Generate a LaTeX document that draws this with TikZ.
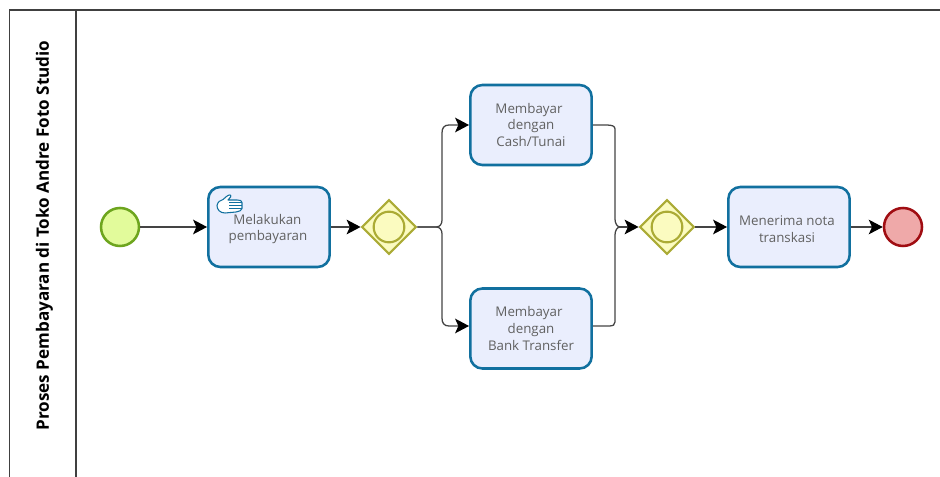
\documentclass[tikz,border=0pt]{standalone}
\usepackage{fontspec}
\setmainfont{Open Sans}
\usetikzlibrary{arrows.meta,shapes.geometric,calc}
\definecolor{taskblue}{HTML}{11709F}
\definecolor{taskfill}{HTML}{EAEEFD}
\definecolor{gateline}{HTML}{ABAB35}
\definecolor{gatefill}{HTML}{FBFBC0}
\definecolor{startline}{HTML}{6DA51E}
\definecolor{startfill}{HTML}{E2FB9B}
\definecolor{endline}{HTML}{A00D12}
\definecolor{endfill}{HTML}{EFA9A9}
\definecolor{flowgray}{HTML}{444444}
\tikzset{
  x=0.75pt,y=-0.75pt,
  taskbox/.style={draw=taskblue,fill=taskfill,line width=1.9pt,rounded corners=9pt,minimum width=91pt,minimum height=60pt,inner sep=0pt,align=center,font=\fontsize{10pt}{12.6pt}\selectfont,text=black!62},
  startev/.style={circle,draw=startline,fill=startfill,line width=1.9pt,minimum size=28.5pt,inner sep=0pt},
  endev/.style={circle,draw=endline,fill=endfill,line width=1.9pt,minimum size=28.5pt,inner sep=0pt},
  gatebox/.style={diamond,aspect=1,draw=gateline,fill=gatefill,line width=1.6pt,minimum size=41pt,inner sep=0pt},
  gatering/.style={circle,draw=gateline,line width=1.6pt,minimum size=23pt,inner sep=0pt},
  flow/.style={draw=flowgray,line width=0.95pt,-{Stealth[length=10.5pt,width=11pt,inset=2.5pt,color=black]}},
  branch/.style={draw=flowgray,line width=0.95pt},
  poolline/.style={draw=black!75,line width=0.9pt}
}
\begin{document}
\begin{tikzpicture}
\useasboundingbox (0,0) rectangle (940,477);
\fill[white] (0,0) rectangle (940,477);
% pool
\coordinate (pooltl) at (9.5,10);
\coordinate (pooltr) at (940,10);
\coordinate (poolbl) at (9.5,477);
\coordinate (divt) at (76,10);
\coordinate (divb) at (76,477);
\draw[poolline] (poolbl) -- (pooltl) -- (pooltr);
\draw[poolline] (divt) -- (divb);
\node[rotate=90,font=\bfseries\fontsize{12.8pt}{15pt}\selectfont,text=black,inner sep=0pt] (pooltitle) at (44.5,235.5) {Proses Pembayaran di Toko Andre Foto Studio};
% nodes
\node[startev] (start) at (120,227) {};
\node[taskbox] (pay) at (269,227) {\rule{0pt}{10.8pt}\hspace*{-2.5pt}Melakukan\\\hspace*{-1.5pt}pembayaran};
\node[gatebox] (g1) at (389,227) {};
\node[gatering] (g1r) at (389,227) {};
\node[taskbox] (cash) at (531,125) {\hspace*{-3pt}Membayar\\dengan\\Cash/Tunai};
\node[taskbox] (bank) at (531,328.5) {\hspace*{-3pt}Membayar\\dengan\\Bank Transfer};
\node[gatebox] (g2) at (667,227) {};
\node[gatering] (g2r) at (667,227) {};
\node[taskbox] (nota) at (789,227) {\rule{0pt}{10.8pt}\hspace*{-3pt}Menerima nota\\\hspace*{-3pt}transkasi};
\node[endev] (end) at (903,227) {};
% hand icon
\begin{scope}[shift={(217,194.5)},draw=taskblue,line width=0.8pt,line join=round]
\draw[fill=white] (0,11) .. controls (1,7) and (3,6) .. (6,5) .. controls (8,3.5) and (11,0) .. (13,0.5) .. controls (15,1) and (13,4) .. (11,5.5) -- (20,5.5) .. controls (23,5.5) and (25,6) .. (25,8) -- (25,14) .. controls (25,16) and (22,17) .. (19,17.5) -- (8,18.5) .. controls (3,18.5) and (0,15) .. (0,11) -- cycle;
\draw (12,8) -- (25,8) (12,11) -- (25,11) (12,14) -- (25,14);
\end{scope}
% bend points of the branches
\coordinate (splitup) at (442,220);
\coordinate (splitdown) at (442,234);
\coordinate (cashup) at (442,133);
\coordinate (bankdown) at (442,318);
\coordinate (bankin) at ($(bank.west)+(0,-2.5)$);
\coordinate (bankout) at ($(bank.east)+(0,-2.5)$);
\coordinate (mergetop) at (615,129);
\coordinate (mergeup) at (615,219);
\coordinate (mergedown) at (615,235);
\coordinate (mergebot) at (615,322);
\coordinate (mergetip) at (620,227);
% connectors
\draw[flow] (start) -- (pay);
\draw[flow] (pay) -- (g1);
\draw[flow] (g2) -- (nota);
\draw[flow] (nota) -- (end);
\draw[flow] (g1.east) -- (436,227) .. controls (440,227) and (442,224) .. (splitup) -- (cashup) .. controls (442,128) and (444,125) .. (449,125) -- (cash.west);
\draw[flow] (g1.east) -- (436,227) .. controls (440,227) and (442,230) .. (splitdown) -- (bankdown) .. controls (442,323) and (444,326) .. (449,326) -- (bankin);
\draw[branch] (cash.east) -- (606,125) .. controls (612,125) and (615,126) .. (mergetop) -- (mergeup) .. controls (615,223) and (617,227) .. (mergetip);
\draw[branch] (bankout) -- (609,326) .. controls (613,326) and (615,325) .. (mergebot) -- (mergedown) .. controls (615,231) and (617,227) .. (mergetip);
\draw[flow] (mergetip) -- (g2.west);
\end{tikzpicture}
\end{document}
